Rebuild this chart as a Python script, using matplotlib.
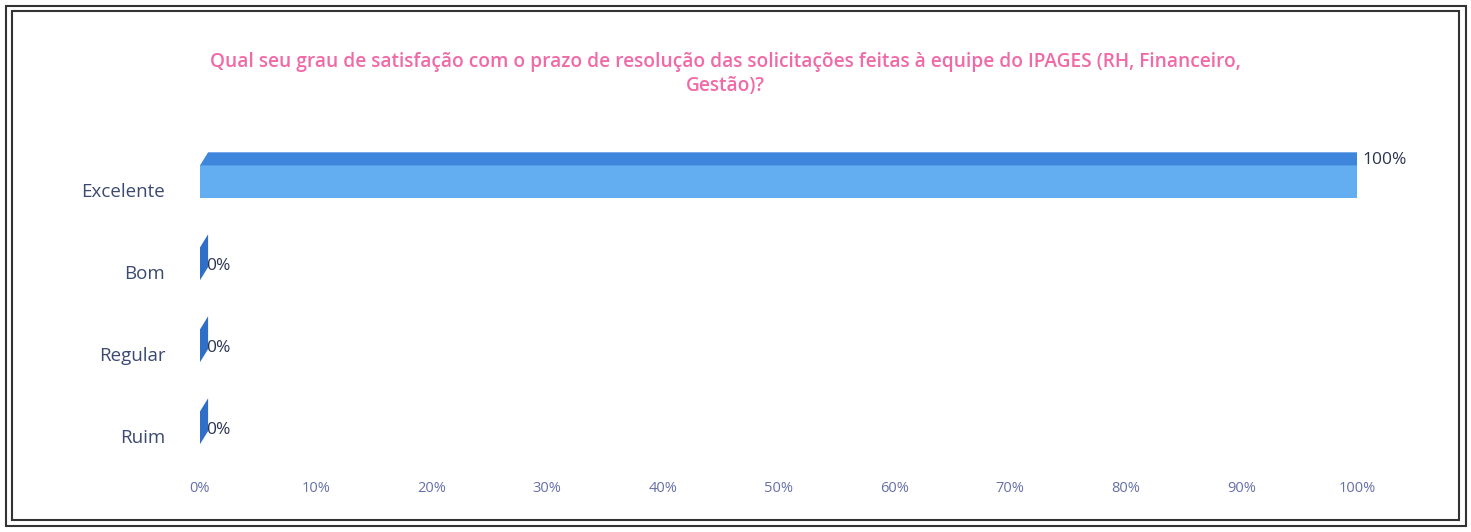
import matplotlib.pyplot as plt
from matplotlib.patches import Polygon, Rectangle
import matplotlib.font_manager as fm

# Survey data
categories = ['Excelente', 'Bom', 'Regular', 'Ruim']
values = [1.00, 0.0, 0.0, 0.0]
value_labels = ['100%', '0%', '0%', '0%']
xticks = [0.0, 0.1, 0.2, 0.3, 0.4, 0.5, 0.6, 0.7, 0.8, 0.9, 1.0]
xtick_labels = ['0%', '10%', '20%', '30%', '40%', '50%', '60%', '70%', '80%', '90%', '100%']
title = ('Qual seu grau de satisfação com o prazo de resolução das solicitações feitas à equipe do IPAGES (RH, Financeiro,\n'
         'Gestão)?')

names = {f.name for f in fm.fontManager.ttflist}
narrow = 'Liberation Sans Narrow' if 'Liberation Sans Narrow' in names else 'Open Sans'
plt.rcParams['font.family'] = [narrow, 'DejaVu Sans']

fig = plt.figure(figsize=(14.71, 5.32), dpi=100)
ax = fig.add_axes([200 / 1471, 1 - 470 / 532, 1157 / 1471, 350 / 532])

h = 0.40     # bar thickness (category units)
dx = 0.007   # 3d depth in x
dy = 0.16    # 3d depth in y
front = '#62aef0'
top = '#3d86dc'
side = '#2f6fc8'

for i, v in enumerate(values):
    c = i - 0.1
    y0 = c - h / 2
    y1 = c + h / 2
    if v > 0:
        ax.add_patch(Rectangle((0, y0), v, h, facecolor=front, edgecolor='none'))
        ax.add_patch(Polygon([(0, y0), (v, y0), (v + dx, y0 - dy), (dx, y0 - dy)],
                             closed=True, facecolor=top, edgecolor='none'))
    ax.add_patch(Polygon([(v, y0), (v + dx, y0 - dy), (v + dx, y1 - dy), (v, y1)],
                         closed=True, facecolor=side, edgecolor='none'))
    ax.text(v + dx - 0.002, i - 0.07 - 0.3 * v, value_labels[i], ha='left', va='center',
            fontsize=12.5, color='#2c3550')

ax.set_xlim(0, 1)
ax.set_ylim(3.415, -0.854)
ax.set_yticks(range(len(categories)))
ax.set_yticklabels(categories, fontsize=13.5, color='#3c4a72')
ax.set_xticks(xticks)
ax.set_xticklabels(xtick_labels, fontsize=10.5, color='#6670a8')
ax.tick_params(axis='both', length=0)
ax.tick_params(axis='y', pad=25)
ax.tick_params(axis='x', pad=8)
for s in ax.spines.values():
    s.set_visible(False)

fig.text(725 / 1471, 1 - 74 / 532, title, ha='center', va='center', fontsize=13.8,
         fontweight='semibold', color='#f06aa8', linespacing=1.3)

# double frame around the chart
for (x0, y0, x1, y1) in [(6, 6, 1466, 526), (12, 11, 1459, 520)]:
    fig.add_artist(Rectangle((x0 / 1471, 1 - y1 / 532), (x1 - x0) / 1471, (y1 - y0) / 532,
                             transform=fig.transFigure, fill=False, edgecolor='#333333', lw=1.5))

fig.savefig('out.png', dpi=100)
